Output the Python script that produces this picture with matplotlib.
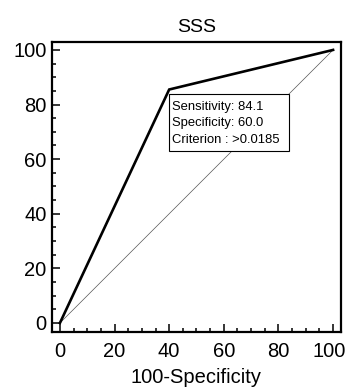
import matplotlib
matplotlib.use("Agg")
import matplotlib.pyplot as plt
from matplotlib.patches import Rectangle
from matplotlib.ticker import MultipleLocator
from matplotlib.transforms import ScaledTranslation

plt.rcParams['font.family'] = ['Liberation Sans', 'DejaVu Sans']

# Data
roc_x = [0, 40, 100]          # 100-Specificity
roc_y = [0, 85.5, 100]        # Sensitivity
diag_x = [0, 100]
diag_y = [0, 100]
title = "SSS"
xlabel = "100-Specificity"
info_lines = ["Sensitivity: 84.1", "Specificity: 60.0", "Criterion : >0.0185"]
ticks = [0, 20, 40, 60, 80, 100]

fig = plt.figure(figsize=(3.48, 3.90), dpi=100)
ax = fig.add_axes([52/348, 1-332/390, (341-52)/348, (332-42)/390])

ax.plot(diag_x, diag_y, color='#555555', lw=0.5, zorder=2)
ax.plot(roc_x, roc_y, color='black', lw=1.9, solid_joinstyle='miter', zorder=4)

# Info box
box_x0, box_x1 = 40.0, 84.0
box_y0, box_y1 = 63.0, 83.8
ax.add_patch(Rectangle((box_x0, box_y0), box_x1-box_x0, box_y1-box_y0,
                       facecolor='white', edgecolor='black', lw=0.8, zorder=3))
line_y = [79.2, 73.3, 66.9]
for t, yy in zip(info_lines, line_y):
    ax.text(41.2, yy, t, fontsize=9.4, va='center', ha='left', zorder=5)

ax.set_xlim(-2.9, 102.9)
ax.set_ylim(-3.3, 102.9)
ax.set_xticks(ticks)
ax.set_yticks(ticks)
ax.xaxis.set_minor_locator(MultipleLocator(5))
ax.yaxis.set_minor_locator(MultipleLocator(5))
ax.tick_params(which='both', direction='in', top=False, right=False)
ax.tick_params(which='major', length=5.5, width=1.1, labelsize=14.5)
ax.tick_params(axis='x', which='major', pad=7)
ax.tick_params(axis='y', which='major', pad=4)
ax.tick_params(which='minor', length=2.7, width=1.1)
for s in ax.spines.values():
    s.set_linewidth(1.6)

ax.set_title(title, fontsize=14, pad=7)
ax.set_xlabel(xlabel, fontsize=14.5, labelpad=5)

# keep the last x tick label inside the canvas
fig.canvas.draw()
last = ax.get_xticklabels()[-1]
last.set_transform(last.get_transform() + ScaledTranslation(-4/100, 0, fig.dpi_scale_trans))

fig.savefig("out.png", dpi=100)
